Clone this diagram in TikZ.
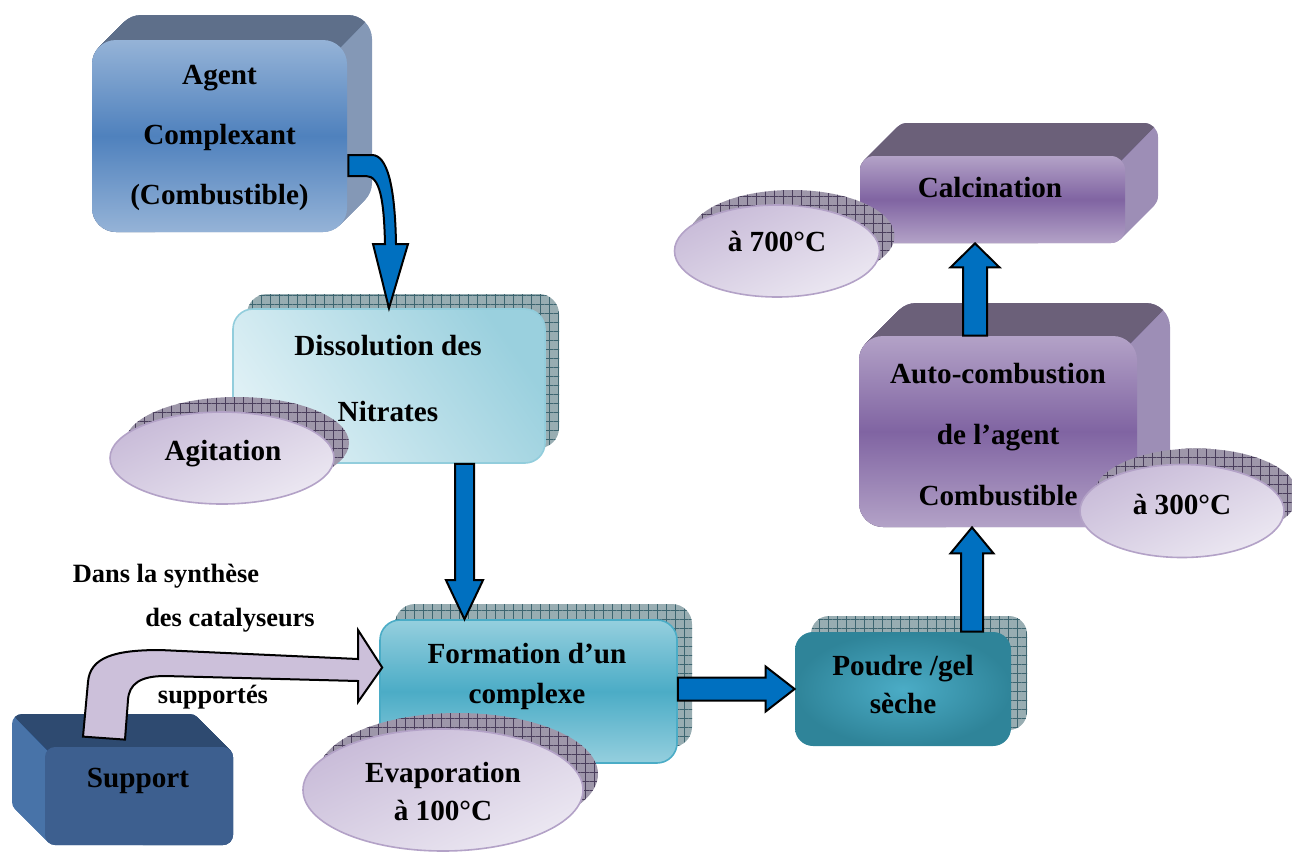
\documentclass[tikz,border=0pt]{standalone}
\usepackage{fontspec}
\setmainfont{Liberation Serif}
\usetikzlibrary{shapes.geometric, calc, patterns.meta}

\definecolor{agentLight}{HTML}{95B3D7}
\definecolor{agentDark}{HTML}{4F81BD}
\definecolor{agentTop}{HTML}{5E6F8A}
\definecolor{agentSide}{HTML}{8498B6}
\definecolor{violetLight}{HTML}{B3A2C7}
\definecolor{violetDark}{HTML}{8064A2}
\definecolor{violetTop}{HTML}{6B6079}
\definecolor{violetSide}{HTML}{9D8EB6}
\definecolor{supportFront}{HTML}{3D5F8F}
\definecolor{supportTop}{HTML}{2E4A70}
\definecolor{supportSide}{HTML}{4873A8}
\definecolor{dissLight}{HTML}{DEF0F5}
\definecolor{dissBlue}{HTML}{9AD0DE}
\definecolor{dissBorder}{HTML}{92CDDC}
\definecolor{formLight}{HTML}{95CFDE}
\definecolor{formDark}{HTML}{4BACC6}
\definecolor{powderIn}{HTML}{4BACC6}
\definecolor{powderOut}{HTML}{2F8499}
\definecolor{ovalTop}{HTML}{C8BBD8}
\definecolor{ovalBottom}{HTML}{ECE8F2}
\definecolor{ovalBorder}{HTML}{B3A2C7}
\definecolor{shadowTeal}{HTML}{98ADB2}
\definecolor{shadowTealLine}{HTML}{3D6570}
\definecolor{shadowViolet}{HTML}{9E97AA}
\definecolor{shadowVioletLine}{HTML}{4A3E5C}
\definecolor{arrowBlue}{HTML}{0070C0}
\definecolor{arrowLilac}{HTML}{CCC0DA}

% straight block arrow: style, from, to, half shaft, half head, head length
\newcommand{\flowArrow}[6]{%
  \coordinate (ab) at ($#3!#6!#2$);
  \draw[#1] ($#2!#4!90:#3$) -- ($(ab)!#4!90:#3$) -- ($(ab)!#5!90:#3$) -- #3
    -- ($(ab)!#5!-90:#3$) -- ($(ab)!#4!-90:#3$) -- ($#2!#4!-90:#3$) -- cycle;}

\tikzset{
  faceBox/.style={rectangle, rounded corners=#1, inner sep=0pt},
  faceBox/.default=10pt,
  shadowBox/.style={rectangle, rounded corners=10pt, inner sep=0pt, fill=shadowTeal,
    postaction={pattern={Hatch[angle=0, distance=4.5pt, line width=0.35pt]}, pattern color=shadowTealLine}},
  shadowOval/.style={ellipse, inner sep=0pt, fill=shadowViolet,
    postaction={pattern={Hatch[angle=0, distance=4.5pt, line width=0.35pt]}, pattern color=shadowVioletLine}},
  ovalShape/.style={ellipse, inner sep=0pt, draw=ovalBorder, line width=0.8pt,
    top color=ovalTop, bottom color=ovalBottom, shading angle=25},
  boxText/.style={font=\bfseries\fontsize{14.6}{#1}\selectfont, align=center, inner sep=0pt},
  boxText/.default=30pt,
  noteText/.style={font=\bfseries\fontsize{13.2}{16}\selectfont, inner sep=0pt},
  blueArrow/.style={fill=arrowBlue, draw=black, line width=1pt, line join=miter},
  lilacArrow/.style={fill=arrowLilac, draw=black, line width=1pt, line join=miter},
}

\begin{document}
\begin{tikzpicture}[x=0.5pt, y=-0.5pt]
\useasboundingbox (0,0) rectangle (1292,853);

% solid boxes
\foreach \i in {0,...,25}
  \fill[agentSide, rounded corners=12pt] ({92+\i},{40-\i}) rectangle ({347+\i},{232-\i});
\begin{scope}
  \clip (40,347) -- (640,-253) -- (40,-853) -- (-560,-253) -- cycle;
  \foreach \i in {0,...,25}
    \fill[agentTop, rounded corners=12pt] ({92+\i},{40-\i}) rectangle ({347+\i},{232-\i});
\end{scope}
\node[faceBox=12pt, minimum width=127.5pt, minimum height=96pt,
      top color=agentLight, bottom color=agentLight, middle color=agentDark] (agent) at (219.5,136) {};
\node[boxText] (agentText) at (219.5,138) {Agent\\Complexant\\(Combustible)};

\foreach \i in {0,...,33}
  \fill[violetSide, rounded corners=7pt] ({860+\i},{156-\i}) rectangle ({1125+\i},{243-\i});
\begin{scope}
  \clip (821,460) -- (1421,-140) -- (821,-740) -- (221,-140) -- cycle;
  \foreach \i in {0,...,33}
    \fill[violetTop, rounded corners=7pt] ({860+\i},{156-\i}) rectangle ({1125+\i},{243-\i});
\end{scope}
\node[faceBox=7pt, minimum width=132.5pt, minimum height=43.5pt,
      top color=violetLight, bottom color=violetLight, middle color=violetDark] (calc) at (992.5,199.5) {};
\node[boxText] (calcText) at (990,188) {Calcination};

\foreach \i in {0,...,33}
  \fill[violetSide, rounded corners=12pt] ({859+\i},{336-\i}) rectangle ({1137+\i},{527-\i});
\begin{scope}
  \clip (830,643) -- (1430,43) -- (830,-557) -- (230,43) -- cycle;
  \foreach \i in {0,...,33}
    \fill[violetTop, rounded corners=12pt] ({859+\i},{336-\i}) rectangle ({1137+\i},{527-\i});
\end{scope}
\node[faceBox=12pt, minimum width=139pt, minimum height=95.5pt,
      top color=violetLight, bottom color=violetLight, middle color=violetDark] (auto) at (998,431.5) {};
\node[boxText=30.5pt] (autoText) at (998,435) {Auto-combustion\\de l’agent\\Combustible};

\foreach \i in {0,...,33}
  \fill[supportSide, rounded corners=5pt] ({45-\i},{747-\i}) rectangle ({233-\i},{845-\i});
\begin{scope}
  \clip (-252,450) -- (348,1050) -- (948,450) -- (348,-150) -- cycle;
  \foreach \i in {0,...,33}
    \fill[supportTop, rounded corners=5pt] ({45-\i},{747-\i}) rectangle ({233-\i},{845-\i});
\end{scope}
\node[faceBox=5pt, minimum width=94pt, minimum height=49pt, fill=supportFront] (support) at (139,796) {};
\node[boxText] (supportText) at (138,781) {Support};

% boxes with hatched shadow
\node[shadowBox, minimum width=156pt, minimum height=77pt] (dissShadow) at (403,371) {};
\node[faceBox, minimum width=156pt, minimum height=77pt, draw=dissBorder, line width=0.8pt,
      top color=dissBlue, bottom color=dissLight, shading angle=-55] (diss) at (389,386) {};
\node[boxText=33pt] (dissText) at (388,379) {Dissolution des\\Nitrates};

\node[shadowBox, minimum width=148.5pt, minimum height=71.5pt] (formShadow) at (543.5,675.5) {};
\node[faceBox, minimum width=148.5pt, minimum height=71.5pt, draw=formDark, line width=0.8pt,
      top color=formLight, bottom color=formLight, middle color=formDark] (form) at (528.5,691.5) {};
\node[boxText=20pt] (formText) at (527,676) {Formation d’un\\complexe};

\node[shadowBox, rounded corners=9pt, minimum width=108pt, minimum height=57pt] (powderShadow) at (919,673) {};
\node[faceBox=9pt, minimum width=108pt, minimum height=57pt,
      inner color=powderIn, outer color=powderOut] (powder) at (903,689) {};
\node[boxText=19pt] (powderText) at (903,685) {Poudre /gel\\sèche};

% ovals
\node[shadowOval, minimum width=112pt, minimum height=46pt] (agitShadow) at (237,443) {};
\node[ovalShape, minimum width=112pt, minimum height=46pt] (agit) at (222,458) {};
\node[boxText] (agitText) at (223,454) {Agitation};

\node[shadowOval, minimum width=140pt, minimum height=61pt] (evapShadow) at (458,774) {};
\node[ovalShape, minimum width=140pt, minimum height=61pt] (evap) at (443,790) {};
\node[boxText=19pt] (evapText) at (443,792) {Evaporation\\à 100°C};

\node[shadowOval, minimum width=102.5pt, minimum height=46pt] (hotShadow) at (792,236) {};
\node[ovalShape, minimum width=102.5pt, minimum height=46pt] (hot) at (777,251) {};
\node[boxText] (hotText) at (777,241) {à 700°C};

\node[shadowOval, minimum width=102pt, minimum height=46.5pt] (warmShadow) at (1196,495) {};
\node[ovalShape, minimum width=102pt, minimum height=46.5pt] (warm) at (1182,511) {};
\node[boxText] (warmText) at (1182,504) {à 300°C};

% notes
\node[noteText] (note1) at (166,576) {Dans la synthèse};
\node[noteText] (note2) at (230,620) {des catalyseurs};
\node[noteText] (note3) at (213,697) {supportés};

% arrows
\draw[blueArrow] ($(agent.east)+(1,19)$) -- (372,155) .. controls (387,155) and (395,185) .. (396,244)
  -- (408,244) -- (diss.north) -- (373,244) -- (385,244) .. controls (384,200) and (380,176) .. (366,176)
  -- ($(agent.east)+(1,40)$) -- cycle;
\flowArrow{blueArrow}{([xshift=37.75pt]diss.south)}{([xshift=-32pt]form.north)}{4.75pt}{9.25pt}{19.5pt}
\flowArrow{blueArrow}{([yshift=1.25pt]form.east)}{(powder.west)}{5.75pt}{11.25pt}{14.5pt}
\flowArrow{blueArrow}{([xshift=34.5pt]powder.north)}{([xshift=-13pt]auto.south)}{5.5pt}{10.75pt}{13pt}
\flowArrow{blueArrow}{([xshift=-11.5pt]auto.north)}{([xshift=-8.75pt]calc.south)}{6pt}{12.25pt}{12pt}

\draw[lilacArrow] ($(support.north)+(-56,-10)$) -- (88,682) .. controls (90,657) and (115,650) .. (160,650)
  -- (358,659) -- (358,630) -- ($(form.west)+(3,-24)$) -- (358,702) -- (358,681) -- (165,676)
  .. controls (140,676) and (129,684) .. (128,700) -- ($(support.north)+(-14,-7)$) -- cycle;
\end{tikzpicture}
\end{document}
